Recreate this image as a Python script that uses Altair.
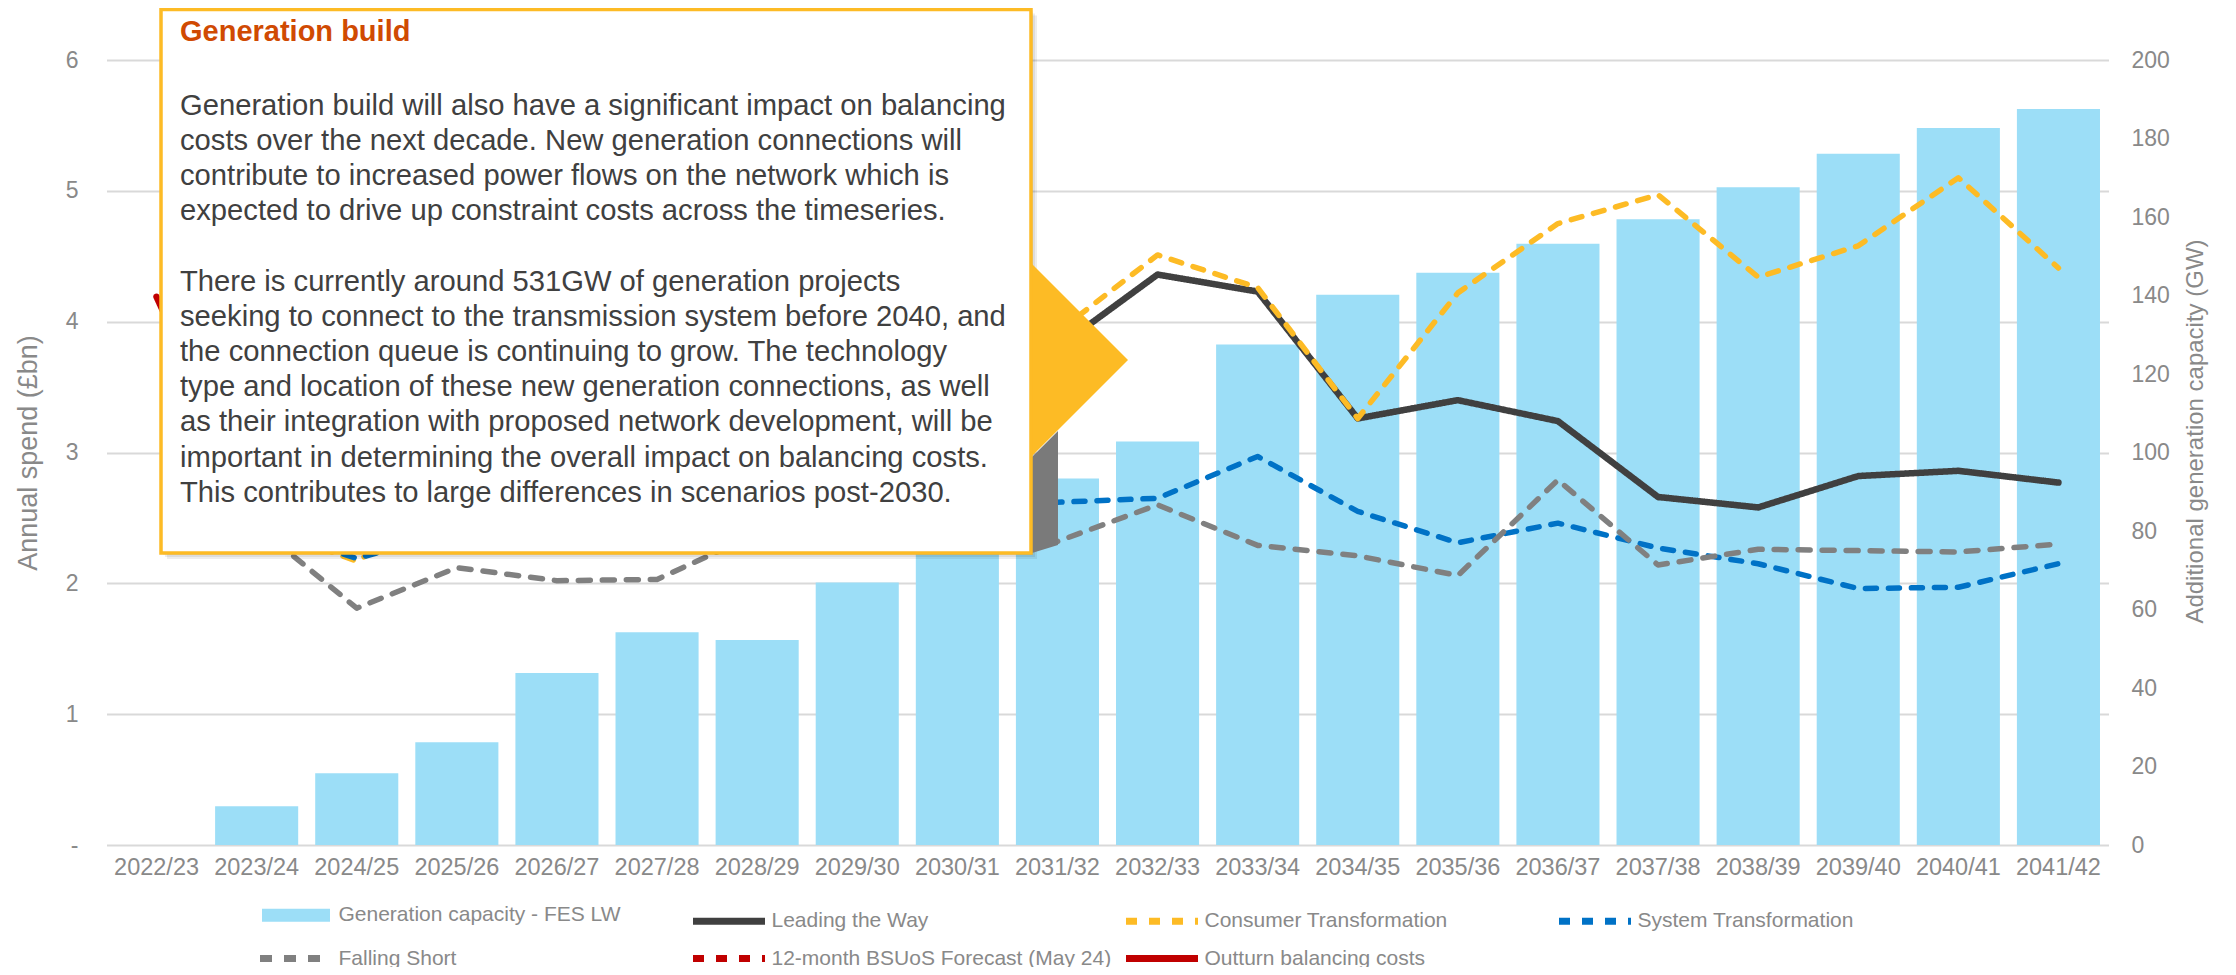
import altair as alt
import pandas as pd

# ---------------- data ----------------
categories = ["2022/23", "2023/24", "2024/25", "2025/26", "2026/27", "2027/28", "2028/29",
              "2029/30", "2030/31", "2031/32", "2032/33", "2033/34", "2034/35", "2035/36",
              "2036/37", "2037/38", "2038/39", "2039/40", "2040/41", "2041/42"]

gen_capacity_gw = [None, 9.9, 18.3, 26.2, 43.8, 54.2, 52.2, 66.9, 80.0, 93.4, 102.8, 127.5,
                   140.2, 145.8, 153.2, 159.4, 167.6, 176.1, 182.7, 187.5]

leading_the_way = [None, 2.45, 2.35, 2.60, 2.90, 3.10, 3.30, 3.50, 3.65, 3.80, 4.36, 4.23,
                   3.26, 3.40, 3.24, 2.66, 2.58, 2.82, 2.86, 2.77]
consumer_transformation = [None, 2.45, 2.17, 2.60, 2.95, 3.20, 3.40, 3.60, 3.75, 3.92, 4.51,
                           4.26, 3.26, 4.22, 4.75, 4.97, 4.34, 4.58, 5.10, 4.41]
system_transformation = [None, 2.45, 2.19, 2.40, 2.50, 2.55, 2.60, 2.60, 2.60, 2.62, 2.65,
                         2.97, 2.55, 2.31, 2.46, 2.27, 2.15, 1.96, 1.97, 2.15]
falling_short = [None, 2.44, 1.81, 2.12, 2.02, 2.03, 2.38, 2.50, 2.40, 2.32, 2.60, 2.29,
                 2.21, 2.06, 2.79, 2.14, 2.26, 2.25, 2.24, 2.30]
bsuos_forecast = [None, 2.50, 2.35] + [None] * 17
outturn_costs = [4.19, 2.50] + [None] * 18

series_names = ["Generation capacity - FES LW", "Leading the Way", "Consumer Transformation",
                "System Transformation", "Falling Short", "12-month BSUoS Forecast (May 24)",
                "Outturn balancing costs"]
series_colors = ["#9CDEF7", "#404040", "#FDBB25", "#0072C6", "#808080", "#C00000", "#C00000"]
series_dashes = [[1, 0], [1, 0], [11, 12], [11, 12], [12, 12], [11, 12], [1, 0]]
series_widths = [13, 6.5, 5.5, 5.5, 5.5, 5.5, 6.5]

left_ticks = [0, 1, 2, 3, 4, 5, 6]
right_ticks = [0, 20, 40, 60, 80, 100, 120, 140, 160, 180, 200]

callout_title = "Generation build"
callout_para1 = [
    "Generation build will also have a significant impact on balancing",
    "costs over the next decade. New generation connections will",
    "contribute to increased power flows on the network which is",
    "expected to drive up constraint costs across the timeseries.",
]
callout_para2 = [
    "There is currently around 531GW of generation projects",
    "seeking to connect to the transmission system before 2040, and",
    "the connection queue is continuing to grow. The technology",
    "type and location of these new generation connections, as well",
    "as their integration with proposed network development, will be",
    "important in determining the overall impact on balancing costs.",
    "This contributes to large differences in scenarios post-2030.",
]

# ---------------- tables ----------------
bars_df = pd.DataFrame([{"category": c, "gw": v} for c, v in zip(categories, gen_capacity_gw) if v is not None])
width_of = dict(zip(series_names, series_widths))


def long(name, vals):
    return [{"category": c, "value": v, "series": name, "sw": width_of[name]}
            for c, v in zip(categories, vals) if v is not None]


solid_df = pd.DataFrame(long("Leading the Way", leading_the_way) + long("Outturn balancing costs", outturn_costs))
dashed_df = pd.DataFrame(long("Consumer Transformation", consumer_transformation)
                         + long("System Transformation", system_transformation)
                         + long("Falling Short", falling_short)
                         + long("12-month BSUoS Forecast (May 24)", bsuos_forecast))

FONT = "Liberation Sans"
GRAY = "#898989"
YELLOW = "#FDBB25"
IS_BAR = "datum.value === 'Generation capacity - FES LW'"
LINE_PATH = "M-3.6,0H3.6"
BAR_PATH = "M-4.857,0H4.857"


def build(per_entry_shape):
    x_enc = alt.X("category:N", sort=categories,
                  scale=alt.Scale(domain=categories, paddingInner=0.17, paddingOuter=0.085),
                  axis=alt.Axis(title=None, labelAngle=0, labelFontSize=23.5, labelColor=GRAY,
                                labelFont=FONT, labelPadding=10, ticks=False, tickSize=0,
                                domain=False, grid=False, labelOverlap=False))

    left_axis = alt.Axis(orient="left", values=left_ticks,
                         labelExpr="datum.value == 0 ? '-\u2007' : datum.label", format="d",
                         title="Annual spend (£bn)", titleFontSize=27, titleFont=FONT,
                         titleColor=GRAY, titleFontWeight="normal", titleAngle=270,
                         titleX=-78.5, titleY=392.5, titleAlign="center", titleBaseline="middle",
                         labelFontSize=23, labelFont=FONT, labelColor=GRAY, labelPadding=28.5,
                         ticks=False, tickSize=0, domain=False, grid=True,
                         gridColor="#D9D9D9", gridWidth=2)
    right_axis = alt.Axis(orient="right", values=right_ticks,
                          title="Additional generation capacity (GW)", titleFontSize=24,
                          titleFont=FONT, titleColor=GRAY, titleFontWeight="normal",
                          titleAngle=270, titleX=86.5, titleY=371, titleAlign="center",
                          titleBaseline="middle", labelFontSize=23, labelFont=FONT,
                          labelColor=GRAY, labelAlign="left", labelPadding=22.5,
                          ticks=False, tickSize=0, domain=False, grid=False)

    if per_entry_shape:
        sym = dict(symbolType={"expr": "(" + IS_BAR + " ? '" + BAR_PATH + "' : '" + LINE_PATH + "')"},
                   symbolSize={"expr": "(" + IS_BAR + " ? 196 : 400)"})
    else:
        sym = dict(symbolType=LINE_PATH, symbolSize=400)

    legend = alt.Legend(
        title=None, orient="none", legendX=150, legendY=841.5, direction="horizontal",
        columns=4, gridAlign="all", columnPadding=0, rowPadding=2.5,
        symbolStrokeWidth={"expr": "(" + IS_BAR + " ? 13 : 7)"}, symbolOffset=26,
        labelFontSize=21, labelFont=FONT, labelColor=GRAY, labelOffset=29, labelLimit=0,
        **sym)

    color_enc = alt.Color("series:N", scale=alt.Scale(domain=series_names, range=series_colors), legend=legend)
    dash_enc = alt.StrokeDash("series:N", scale=alt.Scale(domain=series_names, range=series_dashes), legend=legend)
    width_enc = alt.StrokeWidth("sw:Q", scale=None, legend=None)
    y_left = alt.Y("value:Q", scale=alt.Scale(domain=[0, 6], nice=False, zero=True), axis=left_axis)

    bars = alt.Chart(bars_df).mark_bar(color=series_colors[0]).encode(
        x=x_enc,
        y=alt.Y("gw:Q", scale=alt.Scale(domain=[0, 200], nice=False, zero=True), axis=right_axis),
    )

    solid = alt.Chart(solid_df).mark_line(strokeCap="round", strokeJoin="round").encode(
        x=x_enc, y=y_left, color=color_enc, strokeDash=dash_enc, strokeWidth=width_enc)
    dashed = alt.Chart(dashed_df).mark_line(strokeCap="round", strokeJoin="round").encode(
        x=x_enc, y=y_left, color=color_enc, strokeDash=dash_enc, strokeWidth=width_enc)

    lines = alt.layer(solid, dashed)

    one = alt.Data(values=[{"a": 1}])
    shadows = [
        alt.Chart(one).mark_rect(fill="#000000", opacity=0.07).encode(
            x=alt.value(54.5 + k), x2=alt.value(924.5 + k), y=alt.value(-50.5 + k), y2=alt.value(493 + k))
        for k in (2, 4, 6)
    ]
    dither = alt.Chart(one).mark_point(
        shape="M-0.213,-0.574L0.213,-1L0.213,0.869L-0.213,1Z", filled=True, fill="#7a7a7a",
        opacity=1, size=122 * 122, strokeWidth=0).encode(x=alt.value(938.5), y=alt.value(432))
    triangle = alt.Chart(one).mark_point(
        shape="M-0.5,-1L0.5,0L-0.5,1Z", filled=True, fill=YELLOW, opacity=1,
        size=194 * 194, strokeWidth=0).encode(x=alt.value(973), y=alt.value(300))
    box = alt.Chart(one).mark_rect(fill="white", stroke=YELLOW, strokeWidth=3.5).encode(
        x=alt.value(54.5), x2=alt.value(924.5), y=alt.value(-50.5), y2=alt.value(493))
    title_txt = alt.Chart(one).mark_text(
        text=callout_title, align="left", baseline="middle", font=FONT, fontSize=29,
        fontWeight="bold", color="#D04A02").encode(x=alt.value(73.5), y=alt.value(-28.5))
    body1_txt = alt.Chart(one).mark_text(
        text=callout_para1, align="left", baseline="top", font=FONT, fontSize=29.2,
        lineHeight=35.2, color="#404040").encode(x=alt.value(73.5), y=alt.value(31.5))
    body2_txt = alt.Chart(one).mark_text(
        text=callout_para2, align="left", baseline="top", font=FONT, fontSize=29.2,
        lineHeight=35.2, color="#404040").encode(x=alt.value(73.5), y=alt.value(207.5))

    return alt.layer(bars, lines, *shadows, dither, triangle, box, title_txt, body1_txt, body2_txt).resolve_scale(
        y="independent"
    ).properties(
        width=2002, height=785,
        autosize=alt.AutoSizeParams(type="none"),
        padding={"left": 98.5, "top": 52, "right": 119.5, "bottom": 122},
        background="white",
    ).configure_view(stroke=None)


try:
    chart = build(True)
    chart.to_dict()
except Exception:
    chart = build(False)

chart.save("out.html", embed_options={"renderer": "svg", "actions": False})
